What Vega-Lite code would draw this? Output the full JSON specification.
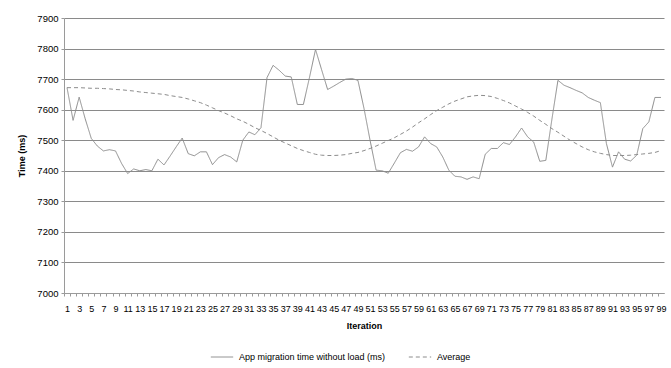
{
  "$schema": "https://vega.github.io/schema/vega-lite/v6.json",
  "width": 600,
  "height": 275,
  "autosize": {"type": "none"},
  "padding": {"left": 64, "top": 18, "right": 7, "bottom": 75},
  "background": "white",
  "config": {
    "font": "Liberation Sans",
    "view": {"stroke": null}
  },
  "datasets": {
    "raw": [
      {"it":1,"v":7672},{"it":2,"v":7565},{"it":3,"v":7641},{"it":4,"v":7570},{"it":5,"v":7506},
      {"it":6,"v":7481},{"it":7,"v":7465},{"it":8,"v":7469},{"it":9,"v":7465},{"it":10,"v":7424},
      {"it":11,"v":7391},{"it":12,"v":7406},{"it":13,"v":7400},{"it":14,"v":7404},{"it":15,"v":7400},
      {"it":16,"v":7438},{"it":17,"v":7419},{"it":18,"v":7448},{"it":19,"v":7478},{"it":20,"v":7507},
      {"it":21,"v":7456},{"it":22,"v":7449},{"it":23,"v":7462},{"it":24,"v":7462},{"it":25,"v":7420},
      {"it":26,"v":7443},{"it":27,"v":7453},{"it":28,"v":7445},{"it":29,"v":7429},{"it":30,"v":7500},
      {"it":31,"v":7527},{"it":32,"v":7518},{"it":33,"v":7541},{"it":34,"v":7705},{"it":35,"v":7745},
      {"it":36,"v":7729},{"it":37,"v":7710},{"it":38,"v":7707},{"it":39,"v":7617},{"it":40,"v":7617},
      {"it":41,"v":7705},{"it":42,"v":7797},{"it":43,"v":7731},{"it":44,"v":7666},{"it":45,"v":7677},
      {"it":46,"v":7689},{"it":47,"v":7700},{"it":48,"v":7702},{"it":49,"v":7696},{"it":50,"v":7604},
      {"it":51,"v":7500},{"it":52,"v":7402},{"it":53,"v":7400},{"it":54,"v":7392},{"it":55,"v":7425},
      {"it":56,"v":7459},{"it":57,"v":7470},{"it":58,"v":7464},{"it":59,"v":7478},{"it":60,"v":7511},
      {"it":61,"v":7489},{"it":62,"v":7478},{"it":63,"v":7445},{"it":64,"v":7402},{"it":65,"v":7382},
      {"it":66,"v":7380},{"it":67,"v":7372},{"it":68,"v":7380},{"it":69,"v":7374},{"it":70,"v":7454},
      {"it":71,"v":7473},{"it":72,"v":7473},{"it":73,"v":7492},{"it":74,"v":7486},{"it":75,"v":7511},
      {"it":76,"v":7540},{"it":77,"v":7511},{"it":78,"v":7494},{"it":79,"v":7431},{"it":80,"v":7434},
      {"it":81,"v":7568},{"it":82,"v":7696},{"it":83,"v":7680},{"it":84,"v":7672},{"it":85,"v":7663},
      {"it":86,"v":7655},{"it":87,"v":7640},{"it":88,"v":7631},{"it":89,"v":7623},{"it":90,"v":7489},
      {"it":91,"v":7412},{"it":92,"v":7462},{"it":93,"v":7438},{"it":94,"v":7432},{"it":95,"v":7451},
      {"it":96,"v":7538},{"it":97,"v":7560},{"it":98,"v":7640},{"it":99,"v":7640}
    ],
    "avg": [
      {"it":1,"v":7672},{"it":2,"v":7672},{"it":3,"v":7672},{"it":4,"v":7671},{"it":5,"v":7670},
      {"it":6,"v":7670},{"it":7,"v":7669},{"it":8,"v":7668},{"it":9,"v":7666},{"it":10,"v":7665},
      {"it":11,"v":7663},{"it":12,"v":7661},{"it":13,"v":7658},{"it":14,"v":7656},{"it":15,"v":7654},
      {"it":16,"v":7652},{"it":17,"v":7650},{"it":18,"v":7646},{"it":19,"v":7643},{"it":20,"v":7640},
      {"it":21,"v":7635},{"it":22,"v":7629},{"it":23,"v":7623},{"it":24,"v":7615},{"it":25,"v":7606},
      {"it":26,"v":7597},{"it":27,"v":7589},{"it":28,"v":7580},{"it":29,"v":7570},{"it":30,"v":7562},
      {"it":31,"v":7552},{"it":32,"v":7541},{"it":33,"v":7532},{"it":34,"v":7522},{"it":35,"v":7511},
      {"it":36,"v":7500},{"it":37,"v":7491},{"it":38,"v":7482},{"it":39,"v":7473},{"it":40,"v":7466},
      {"it":41,"v":7460},{"it":42,"v":7454},{"it":43,"v":7451},{"it":44,"v":7450},{"it":45,"v":7450},
      {"it":46,"v":7451},{"it":47,"v":7453},{"it":48,"v":7457},{"it":49,"v":7460},{"it":50,"v":7466},
      {"it":51,"v":7473},{"it":52,"v":7481},{"it":53,"v":7490},{"it":54,"v":7499},{"it":55,"v":7508},
      {"it":56,"v":7519},{"it":57,"v":7530},{"it":58,"v":7543},{"it":59,"v":7557},{"it":60,"v":7570},
      {"it":61,"v":7584},{"it":62,"v":7597},{"it":63,"v":7608},{"it":64,"v":7619},{"it":65,"v":7628},
      {"it":66,"v":7635},{"it":67,"v":7642},{"it":68,"v":7645},{"it":69,"v":7647},{"it":70,"v":7646},
      {"it":71,"v":7643},{"it":72,"v":7637},{"it":73,"v":7630},{"it":74,"v":7622},{"it":75,"v":7612},
      {"it":76,"v":7602},{"it":77,"v":7591},{"it":78,"v":7579},{"it":79,"v":7565},{"it":80,"v":7552},
      {"it":81,"v":7538},{"it":82,"v":7526},{"it":83,"v":7513},{"it":84,"v":7500},{"it":85,"v":7489},
      {"it":86,"v":7478},{"it":87,"v":7469},{"it":88,"v":7462},{"it":89,"v":7457},{"it":90,"v":7453},
      {"it":91,"v":7450},{"it":92,"v":7450},{"it":93,"v":7450},{"it":94,"v":7451},{"it":95,"v":7453},
      {"it":96,"v":7455},{"it":97,"v":7457},{"it":98,"v":7460},{"it":99,"v":7466}
    ]
  },
  "encoding": {
    "x": {
      "field": "it", "type": "ordinal",
      "sort": "ascending",
      "scale": {"type": "point", "padding": 0.5},
      "axis": {
        "title": "Iteration",
        "titleFontSize": 9,
        "titleFontWeight": "bold",
        "titleColor": "#000",
        "titlePadding": 8,
        "labelAngle": 0,
        "labelFontSize": 9,
        "labelColor": "#000",
        "labelOverlap": false,
        "labelPadding": 8,
        "labelExpr": "datum.value % 2 == 1 ? datum.label : ''",
        "tickOffset": -3,
        "labelOffset": 3,
        "tickSize": 3,
        "tickColor": "#9a9a9a",
        "domainColor": "#9a9a9a",
        "grid": false
      }
    },
    "y": {
      "field": "v", "type": "quantitative",
      "scale": {"domain": [7000, 7900], "nice": false, "zero": false},
      "axis": {
        "title": "Time (ms)",
        "titleFontSize": 9,
        "titleFontWeight": "bold",
        "titleColor": "#000",
        "titlePadding": 10,
        "values": [7000,7100,7200,7300,7400,7500,7600,7700,7800,7900],
        "tickCount": 10,
        "format": "d",
        "labelOverlap": false,
        "labelFontSize": 9.5,
        "labelColor": "#000",
        "labelPadding": 3,
        "tickSize": 3,
        "tickColor": "#9a9a9a",
        "domainColor": "#9a9a9a",
        "gridColor": "#8a8a8a",
        "gridWidth": 1,
        "gridOpacity": 1
      }
    },
    "strokeDash": {
      "field": "series", "type": "nominal",
      "scale": {
        "domain": ["App migration time without load (ms)", "Average"],
        "range": [[1, 0], [4, 3]]
      },
      "legend": {
        "title": null,
        "orient": "none",
        "direction": "horizontal",
        "legendX": 146,
        "legendY": 327,
        "symbolType": "stroke",
        "symbolStrokeColor": "#8c8c8c",
        "symbolStrokeWidth": 1,
        "symbolSize": 500,
        "labelFontSize": 9,
        "labelColor": "#000",
        "columnPadding": 20,
        "labelOffset": 5
      }
    }
  },
  "layer": [
    {
      "data": {"name": "avg"},
      "transform": [{"calculate": "'Average'", "as": "series"}],
      "mark": {"type": "line", "strokeWidth": 1, "color": "#8c8c8c"}
    },
    {
      "data": {"name": "raw"},
      "transform": [{"calculate": "'App migration time without load (ms)'", "as": "series"}],
      "mark": {"type": "line", "strokeWidth": 1, "color": "#8c8c8c"}
    }
  ]
}
